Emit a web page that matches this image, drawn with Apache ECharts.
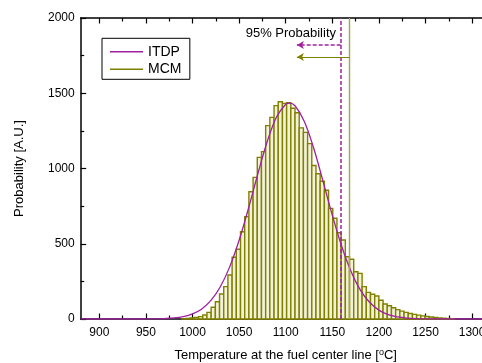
<!DOCTYPE html>
<html><head><meta charset="utf-8">
<script src="https://cdn.jsdelivr.net/npm/echarts@6/dist/echarts.min.js"></script>
<style>html,body{margin:0;padding:0;background:#fff}#c{width:482px;height:363px}</style>
</head><body><div id="c"></div>
<script>
// ---- data ----
const binStart = 988.5;
const binWidth = 4.5;
const mcmCounts = [2, 4, 7, 11, 16, 27, 44, 78, 115, 166, 215, 292, 410, 463, 580, 680, 846, 941,
  1074, 1112, 1285, 1340, 1418, 1444, 1433, 1437, 1400, 1370, 1270, 1240, 1165, 1020, 965, 915,
  855, 735, 669, 573, 525, 414, 397, 314, 303, 215, 177, 164, 153, 125, 100, 88, 75, 62, 52, 44,
  37, 31, 26, 21, 17, 13, 10, 7, 5, 3, 2];
const itdpX = [880, 940, 950, 960, 970, 980, 990, 1000, 1010, 1020, 1030, 1040, 1050, 1060, 1070,
  1080, 1090, 1100, 1104, 1110, 1120, 1130, 1140, 1150, 1160, 1170, 1180, 1190, 1200, 1210, 1220,
  1230, 1240, 1250, 1260, 1270, 1320];
const itdpY = [0, 0, 0.4, 1, 3, 7, 16, 34, 67, 125, 216, 348, 523, 734, 962, 1176, 1341, 1427,
  1435, 1417, 1313, 1136, 916, 690, 485, 318, 194, 111, 59, 29, 14, 6, 2, 1, 0, 0, 0];
const xMajorTicks = [900, 950, 1000, 1050, 1100, 1150, 1200, 1250, 1300];
const xMinorTicks = [925, 975, 1025, 1075, 1125, 1175, 1225, 1275];
const yTicks = [0, 500, 1000, 1500, 2000];
const itdp95 = 1159;
const mcm95 = 1168.5;
const arrowEndX = 1112;
const arrowYItdp = 1820;
const arrowYMcm = 1741;
const annotationText = '95% Probability';

// ---- chart ----
const PURPLE = '#a020a0';
const OLIVE = '#808000';
const FONT = 'Liberation Sans, Arial, sans-serif';
const chart = echarts.init(document.getElementById('c'), null, {renderer: 'canvas'});

const plain = v => String(v);
const baseX = {type: 'value', min: 880, max: 1320, splitLine: {show: false}, gridIndex: 0};
const option = {
  animation: false,
  textStyle: {fontFamily: FONT, color: '#000'},
  grid: {left: 80.7, right: -8.7, top: 18, bottom: 44, containLabel: false, outerBoundsMode: 'none'},
  legend: {
    left: 102, top: 38.3, orient: 'vertical',
    padding: [5.4, 8.4, 2, 8],
    itemWidth: 33, itemHeight: 1.5, itemGap: 1.6, itemTextGap: 5,
    borderColor: '#000', borderWidth: 1, borderRadius: 0,
    textStyle: {fontSize: 14, lineHeight: 16, color: '#000', fontFamily: FONT},
    selectedMode: false,
    data: [
      {name: 'ITDP', icon: 'rect', itemStyle: {color: PURPLE, borderWidth: 0}},
      {name: 'MCM', icon: 'rect', itemStyle: {color: OLIVE, borderWidth: 0}}
    ]
  },
  xAxis: [
    Object.assign({}, baseX, {
      position: 'bottom',
      axisLine: {show: true, onZero: false, lineStyle: {color: '#000', width: 1.5}},
      axisTick: {show: true, inside: true, length: 5.5, customValues: xMajorTicks, lineStyle: {color: '#000', width: 1.2}},
      axisLabel: {show: true, customValues: xMajorTicks, formatter: plain, fontSize: 12, margin: 8, color: '#000', fontFamily: FONT, hideOverlap: false},
      name: 'Temperature at the fuel center line [{sup|o}C]',
      nameLocation: 'middle', nameGap: 29,
      nameTextStyle: {fontSize: 13, color: '#000', fontFamily: FONT,
        rich: {sup: {fontSize: 9, verticalAlign: 'top', padding: [0, 0, 5, 0], color: '#000', fontFamily: FONT}}}
    }),
    Object.assign({}, baseX, {
      position: 'bottom',
      axisLine: {show: false, onZero: false},
      axisTick: {show: true, inside: true, length: 3.5, customValues: xMinorTicks, lineStyle: {color: '#000', width: 1.2}},
      axisLabel: {show: false}
    }),
    Object.assign({}, baseX, {
      position: 'top',
      axisLine: {show: true, onZero: false, lineStyle: {color: '#000', width: 1.5}},
      axisTick: {show: true, inside: true, length: 5.5, customValues: xMajorTicks, lineStyle: {color: '#000', width: 1.2}},
      axisLabel: {show: false}
    }),
    Object.assign({}, baseX, {
      position: 'top',
      axisLine: {show: false, onZero: false},
      axisTick: {show: true, inside: true, length: 3.5, customValues: xMinorTicks, lineStyle: {color: '#000', width: 1.2}},
      axisLabel: {show: false}
    })
  ],
  yAxis: [{
    type: 'value', min: yTicks[0], max: yTicks[yTicks.length - 1], interval: 500,
    position: 'left',
    axisLine: {show: true, onZero: false, lineStyle: {color: '#000', width: 1.5}},
    axisTick: {show: true, inside: true, length: 5.5, lineStyle: {color: '#000', width: 1.2}},
    minorTick: {show: true, splitNumber: 2, length: 3.5, lineStyle: {color: '#000', width: 1.2}},
    axisLabel: {fontSize: 12, margin: 6, color: '#000', fontFamily: FONT, formatter: plain},
    splitLine: {show: false}, minorSplitLine: {show: false},
    name: 'Probability [A.U.]', nameLocation: 'middle', nameGap: 55, nameRotate: 90,
    nameTextStyle: {fontSize: 13, color: '#000', fontFamily: FONT}
  }],
  graphic: [{
    type: 'text', right: 482 - 336, top: 26.5,
    style: {text: annotationText, fontSize: 13, fontFamily: FONT, fill: '#000'}
  }],
  series: [
    {
      name: 'MCM', type: 'custom', xAxisIndex: 0, yAxisIndex: 0,
      itemStyle: {color: OLIVE},
      encode: {x: [0, 1], y: 2},
      data: mcmCounts.map((c, i) => [binStart + i * binWidth, binStart + (i + 1) * binWidth, c]),
      renderItem: function (params, api) {
        const p0 = api.coord([api.value(0), api.value(2)]);
        const p1 = api.coord([api.value(1), 0]);
        return {
          type: 'rect',
          shape: {x: p0[0], y: p0[1], width: p1[0] - p0[0], height: p1[1] - p0[1]},
          style: {fill: '#f2f2d8', stroke: OLIVE, lineWidth: 1.4}
        };
      },
      z: 2
    },
    {
      name: 'ITDP', type: 'line', xAxisIndex: 0, yAxisIndex: 0,
      data: itdpX.map((x, i) => [x, itdpY[i]]),
      smooth: 0.35, symbol: 'none',
      lineStyle: {color: PURPLE, width: 1.3},
      itemStyle: {color: PURPLE},
      z: 4,
      markLine: {
        silent: true, animation: false,
        symbol: ['none', 'none'],
        label: {show: false},
        lineStyle: {color: PURPLE},
        data: [
          {xAxis: itdp95, lineStyle: {color: PURPLE, type: [4, 2], width: 1.5, opacity: 1}},
          {xAxis: mcm95, lineStyle: {color: '#a6a650', type: 'solid', width: 1.4, opacity: 1}},
          [
            {coord: [itdp95, arrowYItdp], symbol: 'none', lineStyle: {color: PURPLE, type: [4, 2], width: 1.5, opacity: 1}},
            {coord: [arrowEndX, arrowYItdp], symbol: 'arrow', symbolSize: [6, 7]}
          ],
          [
            {coord: [mcm95, arrowYMcm], symbol: 'none', lineStyle: {color: OLIVE, type: 'solid', width: 1.2, opacity: 1}},
            {coord: [arrowEndX, arrowYMcm], symbol: 'arrow', symbolSize: [6, 7]}
          ]
        ]
      }
    }
  ]
};
chart.setOption(option);
</script>
</body></html>
